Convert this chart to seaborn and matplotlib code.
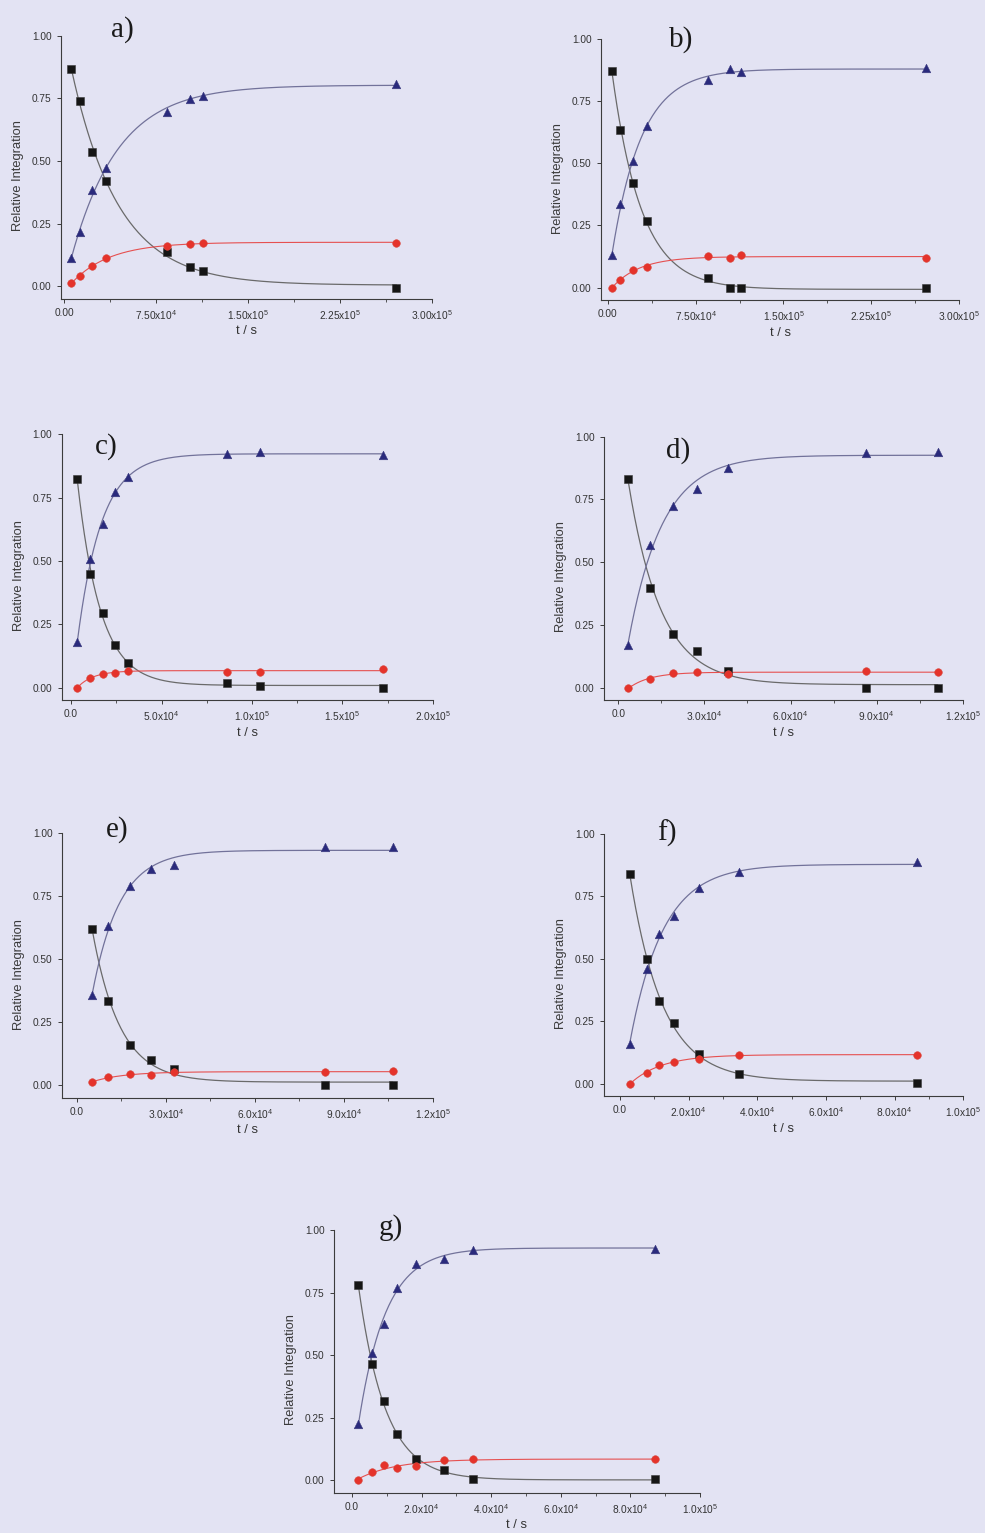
import numpy as np
import pandas as pd
import matplotlib
matplotlib.use("Agg")
import matplotlib.pyplot as plt
import seaborn as sns
from matplotlib.ticker import FixedLocator, MultipleLocator, NullLocator

# ---------------- data ----------------
t_a = [6000, 13000, 23000, 34000, 84000, 103000, 113000, 271000]
sq_a = [0.867, 0.740, 0.535, 0.418, 0.138, 0.077, 0.060, -0.008]
tri_a = [0.113, 0.215, 0.384, 0.470, 0.697, 0.749, 0.761, 0.809]
cir_a = [0.013, 0.042, 0.080, 0.112, 0.159, 0.169, 0.173, 0.174]

t_b = [4000, 10500, 22000, 33300, 85300, 104400, 113700, 271600]
sq_b = [0.870, 0.633, 0.421, 0.269, 0.037, -0.003, -0.003, -0.003]
tri_b = [0.130, 0.336, 0.508, 0.650, 0.835, 0.879, 0.868, 0.883]
cir_b = [0.000, 0.032, 0.069, 0.084, 0.126, 0.117, 0.130, 0.120]

t_c = [3500, 10500, 17500, 24500, 31500, 86100, 104500, 172400]
sq_c = [0.822, 0.449, 0.296, 0.169, 0.098, 0.016, 0.007, -0.003]
tri_c = [0.178, 0.509, 0.645, 0.771, 0.832, 0.922, 0.929, 0.920]
cir_c = [0.000, 0.037, 0.053, 0.058, 0.066, 0.062, 0.063, 0.074]

t_d = [3500, 11000, 19200, 27300, 38100, 86300, 111300]
sq_d = [0.830, 0.398, 0.214, 0.146, 0.066, -0.003, -0.003]
tri_d = [0.169, 0.567, 0.725, 0.790, 0.876, 0.936, 0.940]
cir_d = [-0.003, 0.035, 0.056, 0.062, 0.053, 0.064, 0.061]

t_e = [5300, 10700, 17900, 24900, 32900, 83700, 106500]
sq_e = [0.620, 0.333, 0.161, 0.100, 0.065, 0.001, 0.001]
tri_e = [0.360, 0.631, 0.792, 0.858, 0.876, 0.945, 0.944]
cir_e = [0.013, 0.031, 0.044, 0.041, 0.053, 0.053, 0.055]

t_f = [2900, 7800, 11500, 15800, 23100, 34800, 86400]
sq_f = [0.839, 0.499, 0.331, 0.241, 0.118, 0.037, 0.003]
tri_f = [0.159, 0.460, 0.598, 0.672, 0.784, 0.847, 0.889]
cir_f = [-0.001, 0.044, 0.074, 0.086, 0.099, 0.116, 0.114]

t_g = [1800, 5700, 9200, 12800, 18300, 26500, 34800, 87100]
sq_g = [0.779, 0.464, 0.315, 0.185, 0.084, 0.042, 0.004, 0.005]
tri_g = [0.223, 0.507, 0.625, 0.769, 0.863, 0.885, 0.921, 0.924]
cir_g = [0.000, 0.034, 0.059, 0.047, 0.055, 0.079, 0.083, 0.086]

panel_names = ["a)", "b)", "c)", "d)", "e)", "f)", "g)"]

ticks_300k = [0, 75000, 150000, 225000, 300000]
labels_300k = ["0.00", "7.50x10$^{4}$", "1.50x10$^{5}$", "2.25x10$^{5}$", "3.00x10$^{5}$"]
ticks_200k = [0, 50000, 100000, 150000, 200000]
labels_200k = ["0.0", "5.0x10$^{4}$", "1.0x10$^{5}$", "1.5x10$^{5}$", "2.0x10$^{5}$"]
ticks_120k = [0, 30000, 60000, 90000, 120000]
labels_120k = ["0.0", "3.0x10$^{4}$", "6.0x10$^{4}$", "9.0x10$^{4}$", "1.2x10$^{5}$"]
ticks_100k = [0, 20000, 40000, 60000, 80000, 100000]
labels_100k = ["0.0", "2.0x10$^{4}$", "4.0x10$^{4}$", "6.0x10$^{4}$", "8.0x10$^{4}$", "1.0x10$^{5}$"]

y_ticks = [0.0, 0.25, 0.5, 0.75, 1.0]
y_labels = ["0.00", "0.25", "0.50", "0.75", "1.00"]

# ---------------- style ----------------
BG = "#e3e3f3"
sns.set_style("ticks")
plt.rcParams["font.family"] = ["Liberation Sans", "DejaVu Sans"]
plt.rcParams["mathtext.fontset"] = "custom"
plt.rcParams["mathtext.rm"] = "Liberation Sans"
plt.rcParams["mathtext.default"] = "regular"

W, H = 985, 1533
fig = plt.figure(figsize=(W / 100, H / 100), dpi=100, facecolor=BG)

# layout in pixels: left, right, top(y=1.0), bottom spine
boxes = [
    (61, 432, 35.7, 298.7),
    (601, 959.3, 39, 300),
    (61.7, 432.7, 434.3, 700),
    (604, 962.7, 436.7, 700),
    (62, 432.7, 833.3, 1097.7),
    (604, 963.3, 834, 1096),
    (334, 700, 1230, 1492.7),
]
xmins = [-2500, -5700, -5200, -5000, -4950, -4650, -5200]
xticks = [ticks_300k, ticks_300k, ticks_200k, ticks_120k, ticks_120k, ticks_100k, ticks_100k]
xlabels = [labels_300k, labels_300k, labels_200k, labels_120k, labels_120k, labels_100k, labels_100k]
label_pos = [(122, 30), (681, 40), (106, 447), (678, 451), (117, 830), (667, 833), (391, 1228)]

series = [
    (t_a, sq_a, tri_a, cir_a),
    (t_b, sq_b, tri_b, cir_b),
    (t_c, sq_c, tri_c, cir_c),
    (t_d, sq_d, tri_d, cir_d),
    (t_e, sq_e, tri_e, cir_e),
    (t_f, sq_f, tri_f, cir_f),
    (t_g, sq_g, tri_g, cir_g),
]


def exp_fit(t, y):
    t = np.asarray(t, float)
    y = np.asarray(y, float)
    best = None
    for k in np.logspace(-6.5, -2.5, 900):
        X = np.column_stack([np.ones_like(t), np.exp(-k * t)])
        coef, *_ = np.linalg.lstsq(X, y, rcond=None)
        sse = float(((X @ coef - y) ** 2).sum())
        if best is None or sse < best[0]:
            best = (sse, k, coef)
    _, k, coef = best
    tt = np.linspace(t.min(), t.max(), 400)
    return tt, coef[0] + coef[1] * np.exp(-k * tt)


SQ_C, TRI_C, CIR_C = "#151515", "#2a2a7c", "#e5332b"
SQ_L, TRI_L, CIR_L = "#6a6a6a", "#72729a", "#e65050"

for i, (box, (t, sq, tri, cir)) in enumerate(zip(boxes, series)):
    l, r, top, bot = box
    ax = fig.add_axes([l / W, 1 - bot / H, (r - l) / W, (bot - top) / H])
    ax.set_facecolor(BG)
    wpx, hpx = r - l, bot - top
    # y range: top is 1.0, bottom spine position from layout
    y0 = 0.0  # not data; computed from pixel geometry below
    ax.set_ylim(-(bot - top) / hpx * 0, 1.0)

    df = pd.DataFrame({"t": t, "sq": sq, "tri": tri, "cir": cir})
    for col, lc, lw in (("sq", SQ_L, 0.9), ("tri", TRI_L, 0.9), ("cir", CIR_L, 0.8)):
        tt, yy = exp_fit(df["t"], df[col])
        sns.lineplot(x=tt, y=yy, ax=ax, color=lc, lw=lw, zorder=2)
    sns.scatterplot(data=df, x="t", y="sq", ax=ax, marker="s", s=26, color=SQ_C,
                    edgecolor="#3a3a3a", linewidth=0.4, zorder=3)
    sns.scatterplot(data=df, x="t", y="tri", ax=ax, marker="^", s=38, color=TRI_C,
                    edgecolor="#3c3c80", linewidth=0.4, zorder=3)
    sns.scatterplot(data=df, x="t", y="cir", ax=ax, marker="o", s=30, color=CIR_C,
                    edgecolor="#d84a40", linewidth=0.4, zorder=3)

    ax.set_xlim(xmins[i], xticks[i][-1])
    # y range: 1.0 at top, the 0 line sits ~12.5 px above the spine
    ax.set_ylim(-12.5 / (hpx - 12.5), 1.0)
    ax.xaxis.set_major_locator(FixedLocator(xticks[i]))
    ax.set_xticklabels(xlabels[i])
    step = xticks[i][1] / 2
    ax.xaxis.set_minor_locator(MultipleLocator(step))
    ax.yaxis.set_major_locator(FixedLocator(y_ticks))
    ax.set_yticklabels(y_labels)
    ax.yaxis.set_minor_locator(NullLocator())

    for side in ("top", "right"):
        ax.spines[side].set_visible(False)
    for side in ("left", "bottom"):
        ax.spines[side].set_color("#3c3c3c")
        ax.spines[side].set_linewidth(0.8)
    ax.spines["left"].set_bounds(ax.get_ylim()[0], 1.0)
    ax.tick_params(axis="both", which="major", direction="out", length=2.8, width=0.7,
                   color="#3c3c3c", labelsize=7.3, labelcolor="#333333", pad=4)
    ax.tick_params(axis="x", which="minor", direction="out", length=1.8, width=0.6, color="#3c3c3c")

    ax.set_xlabel("t / s", fontsize=9.3, color="#333333")
    ax.set_ylabel("Relative Integration", fontsize=9.3, color="#3a3a3a")
    ax.xaxis.set_label_coords(0.5, -26.5 / hpx)
    ax.yaxis.set_label_coords(-37 / wpx, 0.467)

    lx, ly = label_pos[i]
    fig.text(lx / W, 1 - ly / H, panel_names[i], ha="center", va="center",
             fontsize=21, family=["Liberation Serif", "DejaVu Serif"], color="#1a1a1a")

fig.savefig("out.png", dpi=100, facecolor=BG)
